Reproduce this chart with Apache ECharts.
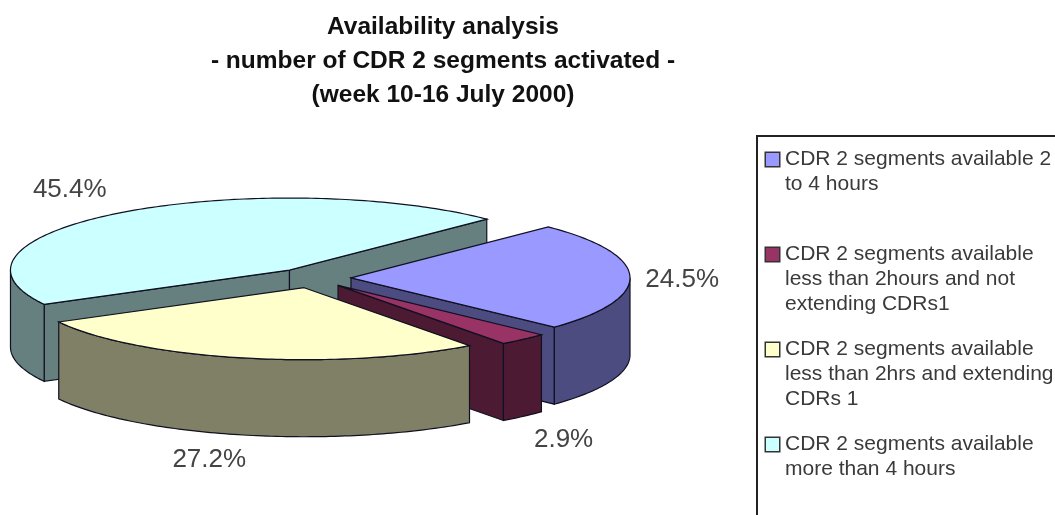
<!DOCTYPE html>
<html>
<head>
<meta charset="utf-8">
<style>
  html, body { margin: 0; padding: 0; background: #fff; }
  #main { width: 1055px; height: 515px; }
</style>
<script src="https://cdn.jsdelivr.net/npm/echarts@6/dist/echarts.min.js"></script>
</head>
<body>
<div id="main"></div>
<script>
const titleText = 'Availability analysis\n- number of CDR 2 segments activated -\n(week 10-16 July 2000)';
const categories = [
  'CDR 2 segments available 2\nto 4 hours',
  'CDR 2 segments available\nless than 2hours and not\nextending CDRs1',
  'CDR 2 segments available\nless than 2hrs and extending\nCDRs 1',
  'CDR 2 segments available\nmore than 4 hours'
];
const values = [24.5, 2.9, 27.2, 45.4];

const topColors = ['#9999ff', '#993366', '#ffffcc', '#ccffff'];
const sideColors = ['#4c4c80', '#4d1a33', '#808066', '#668080'];
// back to front
const drawOrder = [3, 0, 1, 2];
// label anchors in pie units (x right, y up)
const labelAt = [[1.325, -0.02], [0.9, -2.25], [-0.37, -2.53], [-0.87, 1.23]];

const startAngle = 45;
const explode = 0.138;
const depth = 1.07;

const total = values.reduce((a, b) => a + b, 0);
let acc = 0;
const spans = values.map(v => {
  const a0 = startAngle - acc / total * 360;
  acc += v;
  return [a0, startAngle - acc / total * 360];
});

const rad = d => d * Math.PI / 180;

function sliceItem(i) {
  return function (params, api) {
    const a0 = spans[i][0], a1 = spans[i][1];
    const mid = rad((a0 + a1) / 2);
    const ox = explode * Math.cos(mid), oy = explode * Math.sin(mid);
    const top = (x, y) => api.coord([x + ox, y + oy]);
    const low = (x, y) => api.coord([x + ox, y + oy - depth]);
    const style = c => ({ fill: c, stroke: '#101020', lineWidth: 1.2 });
    const children = [];

    function wall(deg) {
      const x = Math.cos(rad(deg)), y = Math.sin(rad(deg));
      children.push({
        type: 'polygon',
        shape: { points: [top(0, 0), top(x, y), low(x, y), low(0, 0)] },
        style: style(sideColors[i])
      });
    }
    if (Math.sin(rad(a0 + 90)) < 0) wall(a0);
    if (Math.sin(rad(a1 - 90)) < 0) wall(a1);

    // outer wall, only the part below the horizontal axis faces us
    const upper = [], lower = [];
    for (let d = a0; d >= a1 - 0.01; d -= Math.min(1, Math.max(d - a1, 0.01))) {
      if (Math.sin(rad(d)) <= 0.001) {
        upper.push(top(Math.cos(rad(d)), Math.sin(rad(d))));
        lower.unshift(low(Math.cos(rad(d)), Math.sin(rad(d))));
      }
    }
    if (upper.length > 1) {
      children.push({
        type: 'polygon',
        shape: { points: upper.concat(lower) },
        style: style(sideColors[i])
      });
    }

    const face = [top(0, 0)];
    for (let d = a0; d >= a1 - 0.01; d -= Math.min(1, Math.max(d - a1, 0.01))) {
      face.push(top(Math.cos(rad(d)), Math.sin(rad(d))));
    }
    children.push({ type: 'polygon', shape: { points: face }, style: style(topColors[i]) });

    const lp = api.coord(labelAt[i]);
    children.push({
      type: 'text',
      style: {
        text: api.value(0).toFixed(1) + '%',
        x: lp[0], y: lp[1],
        align: 'center', verticalAlign: 'middle',
        fill: '#444',
        font: '26px "Liberation Sans", Arial, sans-serif'
      }
    });
    return { type: 'group', children: children };
  };
}

const legendRich = {
  ind: { width: 19, lineHeight: 25, fontSize: 20 },
  gap: { width: 6, lineHeight: 25, fontSize: 20 },
  txt: { fontSize: 21, lineHeight: 25, color: '#3a3a3a', fontFamily: '"Liberation Sans", Arial, sans-serif' }
};
topColors.forEach((c, i) => {
  legendRich['box' + i] = {
    width: 13, height: 13, lineHeight: 25, backgroundColor: c,
    borderColor: '#333', borderWidth: 1.5
  };
});

const chart = echarts.init(document.getElementById('main'));
chart.setOption({
  animation: false,
  backgroundColor: '#fff',
  title: {
    text: titleText,
    left: 438,
    top: 5,
    textAlign: 'center',
    textStyle: {
      fontFamily: '"Liberation Sans", Arial, sans-serif',
      fontSize: 24.5,
      fontWeight: 'bold',
      lineHeight: 34,
      color: '#111'
    }
  },
  // the pie's unit ellipse spans exactly this grid
  grid: { left: 33.5, width: 558, top: 206, height: 144 },
  xAxis: { type: 'value', min: -1, max: 1, show: false },
  yAxis: { type: 'value', min: -1, max: 1, show: false },
  legend: {
    data: categories,
    orient: 'vertical',
    left: 761,
    top: 149,
    padding: 0,
    itemGap: 24,
    itemWidth: 0,
    itemHeight: 0,
    icon: 'none',
    selectedMode: false,
    textStyle: { rich: legendRich },
    formatter: function (name) {
      const i = categories.indexOf(name);
      const lines = name.split('\n');
      if (i === 0) lines.push(' ');
      return lines.map((l, n) => (n === 0
        ? '{box' + i + '| }{gap| }{txt|' + l + '}'
        : '{ind| }{txt|' + l + '}')).join('\n');
    }
  },
  graphic: [{
    type: 'polyline',
    shape: { points: [[1055, 136], [757, 136], [757, 515]] },
    style: { stroke: '#222', lineWidth: 2, fill: null }
  }],
  series: drawOrder.map(i => ({
    type: 'custom',
    name: categories[i],
    coordinateSystem: 'cartesian2d',
    encode: { x: 0, y: 1 },
    clip: false,
    silent: true,
    renderItem: sliceItem(i),
    data: [[values[i], 0]]
  }))
});
</script>
</body>
</html>
